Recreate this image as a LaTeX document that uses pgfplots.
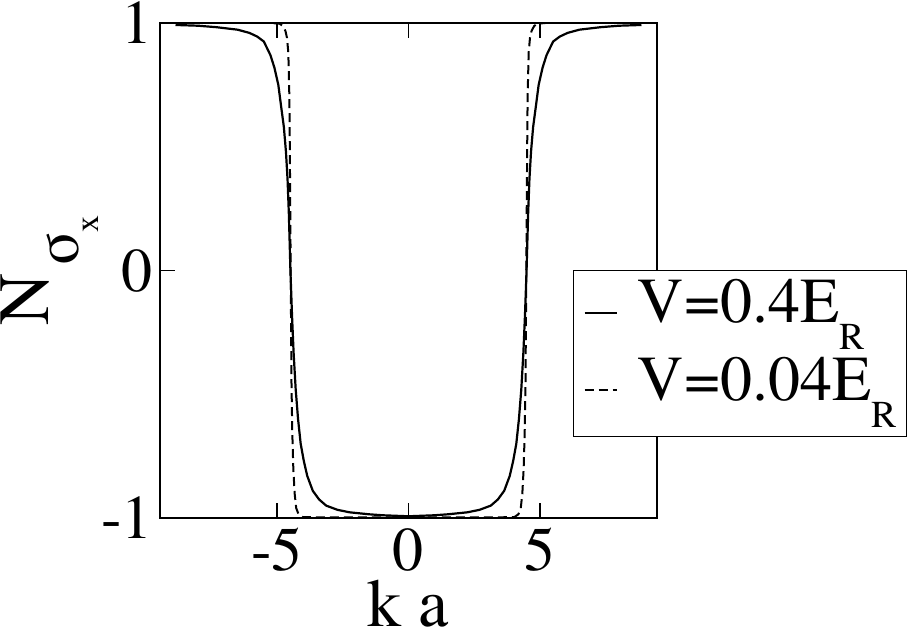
\documentclass[border=0pt]{standalone}
\usepackage{fontspec}
\setmainfont{texgyretermes}[Extension=.otf, UprightFont=*-regular, BoldFont=*-bold]
\newfontfamily\tnr{texgyretermes}[Extension=.otf, UprightFont=*-regular]
\usepackage{pgfplots}
\pgfplotsset{compat=1.18}
\begin{document}
\begin{tikzpicture}
\begin{axis}[
  scale only axis, width=497pt, height=495pt,
  xmin=-9.45, xmax=9.45, ymin=-1, ymax=1,
  xtick={-5,0,5}, xticklabels={-5,0,5},
  ytick={-1,0,1}, yticklabels={-1,0,1},
  minor tick num=0,
  tick align=inside, major tick length=15pt,
  axis line style={line width=2.2pt},
  every tick/.style={black, line width=1.3pt},
  xticklabel style={font=\tnr\fontsize{62}{62}\selectfont, anchor=north, inner sep=0pt, yshift=-10pt},
  yticklabel style={font=\tnr\fontsize{62}{62}\selectfont, anchor=east, inner sep=0pt, xshift=-7pt},
  xlabel={k a},
  xlabel style={font=\tnr\fontsize{68}{68}\selectfont, at={(axis description cs:0.5,-0.220)}, anchor=base, inner sep=0pt},
  ylabel={N\hspace{8pt}\raisebox{-30pt}{\fontsize{62}{62}\selectfont σ\raisebox{-20pt}{\fontsize{34}{34}\selectfont x}}},
  ylabel style={font=\tnr\fontsize{72}{72}\selectfont, at={(axis description cs:-0.3199,0.5)}, anchor=north, inner sep=0pt},
  legend style={at={(axis description cs:0.831,0.501)}, anchor=north west, draw=black, line width=1.3pt, fill=white,
    font=\tnr\fontsize{64}{64}\selectfont, inner xsep=10pt, inner ysep=9pt, row sep=7pt, column sep=20pt,
    nodes={inner sep=0pt, text depth={}}},
  legend cell align=left,
  legend image code/.code={\draw[#1] (0pt,2pt) -- (32pt,2pt);},
]
\addplot[black, line width=2.2pt] coordinates {
(-8.86,0.992) (-8.0,0.989) (-7.3,0.983) (-6.5,0.973) (-6.05,0.960) (-5.75,0.945) (-5.5,0.925) (-5.25,0.87) (-5.1,0.82) (-4.95,0.75) (-4.84,0.66) (-4.74,0.58) (-4.66,0.48) (-4.6,0.37) (-4.55,0.23) (-4.49,0.0) (-4.43,-0.18) (-4.37,-0.33) (-4.29,-0.48) (-4.2,-0.6) (-4.1,-0.7) (-3.98,-0.77) (-3.85,-0.83) (-3.64,-0.89) (-3.4,-0.925) (-3.13,-0.95) (-2.7,-0.967) (-2.24,-0.977) (-1.5,-0.985) (-0.98,-0.989) (0,-0.993)
(0.98,-0.989) (1.5,-0.985) (2.24,-0.977) (2.7,-0.967) (3.13,-0.95) (3.4,-0.925) (3.64,-0.89) (3.85,-0.83) (3.98,-0.77) (4.1,-0.7) (4.2,-0.6) (4.29,-0.48) (4.37,-0.33) (4.43,-0.18) (4.49,0.0) (4.55,0.23) (4.6,0.37) (4.66,0.48) (4.74,0.58) (4.84,0.66) (4.95,0.75) (5.1,0.82) (5.25,0.87) (5.5,0.925) (5.75,0.945) (6.05,0.960) (6.5,0.973) (7.3,0.983) (8.0,0.989) (8.86,0.992)
};
\addlegendentry{V=0.4E\raisebox{-27pt}{\fontsize{38}{38}\selectfont R}}
\addplot[black, line width=2pt, dash pattern=on 9pt off 5pt] coordinates {
(-8.86,1) (-5.2,1) (-4.9,0.997) (-4.78,0.988) (-4.68,0.968) (-4.62,0.94) (-4.57,0.88) (-4.53,0.7) (-4.51,0.45) (-4.49,0.15) (-4.47,-0.15) (-4.45,-0.45) (-4.42,-0.65) (-4.38,-0.8) (-4.33,-0.9) (-4.27,-0.96) (-4.18,-0.985) (-4.03,-0.996) (-3.6,-0.997) (0,-0.997)
(3.6,-0.997) (4.03,-0.996) (4.18,-0.985) (4.27,-0.96) (4.33,-0.9) (4.38,-0.8) (4.42,-0.65) (4.45,-0.45) (4.47,-0.15) (4.49,0.15) (4.51,0.45) (4.53,0.7) (4.57,0.88) (4.62,0.94) (4.68,0.968) (4.78,0.988) (4.9,0.997) (5.2,1) (8.86,1)
};
\addlegendentry{V=0.04E\raisebox{-27pt}{\fontsize{38}{38}\selectfont R}}
\end{axis}
\pgfresetboundingbox
\path (-160pt,-114pt) rectangle (750pt,518pt);
\end{tikzpicture}
\end{document}
